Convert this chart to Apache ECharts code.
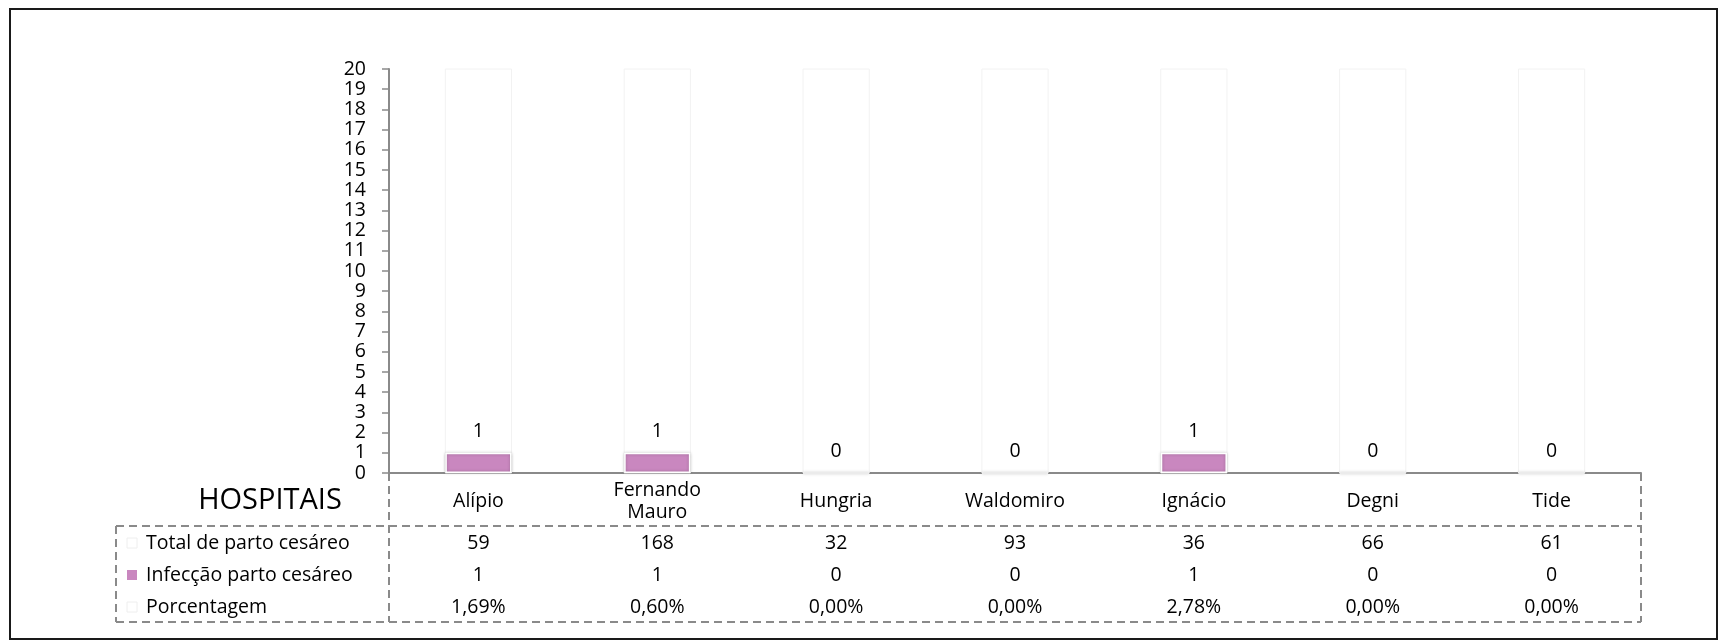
<!DOCTYPE html>
<html>
<head>
<meta charset="utf-8">
<script src="https://cdn.jsdelivr.net/npm/echarts@6/dist/echarts.min.js"></script>
<style>
html,body{margin:0;padding:0;background:#fff;}
#chart{width:1721px;height:643px;}
</style>
</head>
<body>
<div id="chart"></div>
<script>
// ---- data ----
const categories = ['Alípio', 'Fernando\nMauro', 'Hungria', 'Waldomiro', 'Ignácio', 'Degni', 'Tide'];
const totalCesareo = [59, 168, 32, 93, 36, 66, 61];
const infeccaoCesareo = [1, 1, 0, 0, 1, 0, 0];
const porcentagem = ['1,69%', '0,60%', '0,00%', '0,00%', '2,78%', '0,00%', '0,00%'];
const rowLabels = ['Total de parto cesáreo', 'Infecção parto cesáreo', 'Porcentagem'];
const axisTitle = 'HOSPITAIS';
const yMin = 0, yMax = 20, yStep = 1;

// ---- style ----
const FONT = 'Open Sans';
const FS = 19.5;
const BAR_COLOR = '#C987BF';
const LINE_COLOR = '#8a8a8a';

const chart = echarts.init(document.getElementById('chart'), null, {renderer: 'canvas'});

const gridL = 389, gridR = 1641, gridT = 69, gridB = 473;
const tableLeft = 116, rowSep = 526, tableBottom = 622;

function tableAxis(values, margin) {
  return {
    type: 'category', gridIndex: 0, position: 'bottom',
    data: values.map(String),
    axisLine: {show: false}, axisTick: {show: false}, splitLine: {show: false},
    axisLabel: {margin: margin, verticalAlign: 'middle', fontSize: FS, fontFamily: FONT, color: '#000', interval: 0}
  };
}

const dash = {stroke: LINE_COLOR, lineWidth: 2, lineDash: [8, 5]};
const rowY = [543, 575, 607];

const graphics = [
  {type: 'rect', shape: {x: 10, y: 9, width: 1707, height: 630}, style: {fill: 'none', stroke: '#1a1a1a', lineWidth: 2}, silent: true},
  {type: 'line', shape: {x1: tableLeft, y1: rowSep, x2: gridR, y2: rowSep}, style: dash},
  {type: 'line', shape: {x1: tableLeft, y1: tableBottom, x2: gridR, y2: tableBottom}, style: dash},
  {type: 'line', shape: {x1: tableLeft, y1: rowSep, x2: tableLeft, y2: tableBottom}, style: dash},
  {type: 'line', shape: {x1: gridL, y1: gridB, x2: gridL, y2: tableBottom}, style: dash},
  {type: 'line', shape: {x1: gridR, y1: gridB, x2: gridR, y2: tableBottom}, style: dash},
  {type: 'text', x: 270, y: 501, style: {text: axisTitle, fontSize: 29, fontFamily: FONT, fill: '#000', align: 'center', verticalAlign: 'middle'}}
];
rowLabels.forEach((t, i) => {
  graphics.push({type: 'rect', shape: {x: 127, y: rowY[i] - 5, width: 10, height: 10},
    style: i === 1 ? {fill: BAR_COLOR} : {fill: '#fff', stroke: '#eeeeee', lineWidth: 1}});
  graphics.push({type: 'text', x: 146, y: rowY[i], style: {text: t, fontSize: FS, fontFamily: FONT, fill: '#000', align: 'left', verticalAlign: 'middle'}});
});

const option = {
  backgroundColor: '#ffffff',
  animation: false,
  textStyle: {fontFamily: FONT},
  grid: {left: gridL, right: 1721 - gridR, top: gridT, bottom: 643 - gridB, containLabel: false},
  xAxis: [
    {
      type: 'category', gridIndex: 0, position: 'bottom', data: categories,
      axisLine: {show: true, lineStyle: {color: LINE_COLOR, width: 2}},
      axisTick: {show: false}, splitLine: {show: false},
      axisLabel: {margin: 28, verticalAlign: 'middle', fontSize: FS, fontFamily: FONT, color: '#000', lineHeight: 22, interval: 0}
    },
    tableAxis(totalCesareo, 70),
    tableAxis(infeccaoCesareo, 102),
    tableAxis(porcentagem, 134)
  ],
  yAxis: {
    type: 'value', min: yMin, max: yMax, interval: yStep,
    axisLine: {show: true, lineStyle: {color: LINE_COLOR, width: 2}},
    axisTick: {show: true, length: 7, lineStyle: {color: LINE_COLOR, width: 1.5}},
    splitLine: {show: false},
    axisLabel: {margin: 23, fontSize: FS, fontFamily: FONT, color: '#000'}
  },
  series: [{
    name: 'Infecção parto cesáreo',
    type: 'bar', xAxisIndex: 0, yAxisIndex: 0,
    data: infeccaoCesareo,
    barWidth: '37%',
    showBackground: true,
    backgroundStyle: {color: 'rgba(0,0,0,0)', borderColor: '#f2f2f2', borderWidth: 1},
    itemStyle: {color: BAR_COLOR, borderColor: '#ffffff', borderWidth: 1.5, shadowBlur: 3, shadowColor: 'rgba(0,0,0,0.25)'},
    label: {show: true, position: 'top', distance: 11, fontSize: FS, fontFamily: FONT, color: '#000'}
  }],
  graphic: graphics
};
chart.setOption(option);
</script>
</body>
</html>
